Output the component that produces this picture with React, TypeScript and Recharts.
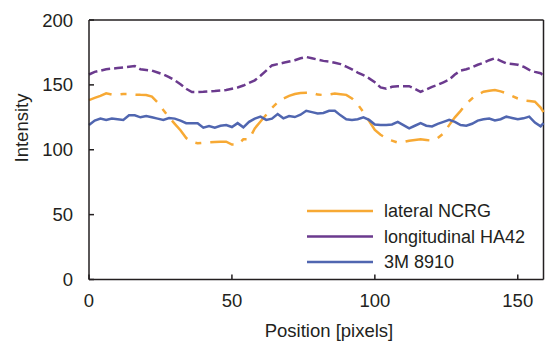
import React from 'react';
import { LineChart, Line, XAxis, YAxis, ReferenceLine, Customized } from 'recharts';

const positions = [
  0, 2, 4, 6, 8, 10, 12, 14, 16, 18,
  20, 22, 24, 26, 28, 30, 32, 34, 36, 38,
  40, 42, 44, 46, 48, 50, 52, 54, 56, 58,
  60, 62, 64, 66, 68, 70, 72, 74, 76, 78,
  80, 82, 84, 86, 88, 90, 92, 94, 96, 98,
  100, 102, 104, 106, 108, 110, 112, 114, 116, 118,
  120, 122, 124, 126, 128, 130, 132, 134, 136, 138,
  140, 142, 144, 146, 148, 150, 152, 154, 156, 158,
  159,
];

const lateralNCRG = [
  138.3, 140, 141.5, 143.5, 142.5, 142.5, 143, 143, 142.5, 142.3,
  142.2, 141, 136.5, 130.6, 125, 120, 115, 109, 106, 105,
  105.4, 105.7, 106, 106.2, 106.2, 104, 104, 108, 108, 116.5,
  121.8, 127, 132.2, 136.5, 139.5, 141.5, 143, 143.7, 144, 144,
  142.5, 142.2, 142.5, 143.3, 142.8, 142.3, 139.5, 135, 129, 122,
  115.2, 111.5, 109, 107, 105.5, 106, 107, 107.5, 108, 107.5,
  107, 109, 112.5, 119, 125, 130, 135.5, 139.5, 142.5, 144.7,
  145.5, 146, 145, 143.5, 141.5, 139.5, 138, 137.5, 137, 132.5,
  129,
];

const longitudinalHA42 = [
  158, 160, 161, 162, 162.5, 163, 163.5, 164, 164.5, 162,
  161.5, 161, 159.5, 158, 156, 153.5, 150.5, 147, 144.5, 144.5,
  144.7, 145, 145.3, 145.7, 146, 147, 148, 149.5, 151.5, 153.5,
  157, 161, 165, 166, 167, 168, 169, 170.5, 171.5, 170.5,
  169.5, 168.5, 168, 167, 166, 164, 162, 159.5, 157.5, 155,
  152, 148, 147, 148.5, 149, 149, 149, 147, 144.7, 146.5,
  148.5, 150, 152, 154, 158, 161, 162, 163.5, 165.5, 167,
  169, 170.5, 168.5, 166.5, 166, 165.5, 164, 161.5, 160, 159,
  157,
];

const m8910 = [
  119, 122.5, 124, 123, 124, 123.5, 123, 126.5, 126.5, 125,
  126, 125, 124, 123, 124.5, 124, 122.5, 120.5, 120.5, 120.5,
  117, 118.3, 117, 118.5, 119, 117.5, 120.5, 117.3, 121.5, 124,
  125.5, 123, 124, 127.5, 124.2, 126, 125.2, 127, 130, 129,
  128, 128.3, 130, 130, 126.5, 123.5, 123, 123.5, 125, 123,
  119.5, 119, 119, 119.5, 121.5, 119, 116.5, 118.5, 120.5, 118.5,
  118, 120, 121.5, 123, 121.5, 119, 118.5, 120, 122.5, 123.5,
  124, 122.5, 123.5, 125.5, 124.5, 123.5, 124.2, 125.5, 121, 118,
  120.5,
];

const xTicks = [0, 50, 100, 150];
const yTicks = [0, 50, 100, 150, 200];

const seriesNames = ['lateral NCRG', 'longitudinal HA42', '3M 8910'];
const seriesColors = ['#F7A934', '#6B3A8E', '#5066B0'];

const data = positions.map((p, i) => ({
  pos: p,
  lateral: lateralNCRG[i],
  longitudinal: longitudinalHA42[i],
  m: m8910[i],
}));

const FONT = '"Liberation Sans", Arial, sans-serif';
const AXIS = '#231F20';
const TICK_FS = 18.5;

const Overlay = () => (
  <g fontFamily={FONT} fill="#231F20">
    <text x={329} y={330} fontSize={18.5} textAnchor="middle" dominantBaseline="central">
      Position [pixels]
    </text>
    <text
      x={21}
      y={128}
      fontSize={18.5}
      textAnchor="middle"
      dominantBaseline="central"
      transform="rotate(-90 21 128)"
    >
      Intensity
    </text>
    {seriesNames.map((n, i) => (
      <g key={n}>
        <line x1={307} x2={373} y1={211 + i * 25.5} y2={211 + i * 25.5} stroke={seriesColors[i]} strokeWidth={2.5} />
        <text x={384} y={211 + i * 25.5} fontSize={18} dominantBaseline="central">
          {n}
        </text>
      </g>
    ))}
  </g>
);

export default function App() {
  return (
    <div style={{ position: 'absolute', left: 0, top: 0, background: '#fff' }}>
      <LineChart
        width={546}
        height={341}
        data={data}
        margin={{ top: 20, right: 2.5, bottom: 0, left: 0 }}
      >
        <XAxis
          dataKey="pos"
          type="number"
          domain={[0, 159]}
          ticks={xTicks}
          interval={0}
          height={61.5}
          tickSize={-5}
          tickMargin={19.4}
          axisLine={{ stroke: AXIS, strokeWidth: 1.5 }}
          tickLine={{ stroke: AXIS, strokeWidth: 1.5 }}
          tick={{ fill: '#231F20', fontSize: TICK_FS, fontFamily: FONT }}
        />
        <YAxis
          type="number"
          domain={[0, 200]}
          ticks={yTicks}
          interval={0}
          width={89}
          tickSize={-5}
          tickMargin={21}
          axisLine={{ stroke: AXIS, strokeWidth: 1.5 }}
          tickLine={{ stroke: AXIS, strokeWidth: 1.5 }}
          tick={{ fill: '#231F20', fontSize: TICK_FS, fontFamily: FONT }}
        />
        <ReferenceLine y={200} stroke={AXIS} strokeWidth={1.5} />
        <ReferenceLine x={159} stroke={AXIS} strokeWidth={1.5} />
        <Line
          type="linear"
          dataKey="lateral"
          stroke={seriesColors[0]}
          strokeWidth={2.5}
          strokeDasharray="24 9 6 9"
          dot={false}
          isAnimationActive={false}
        />
        <Line
          type="linear"
          dataKey="longitudinal"
          stroke={seriesColors[1]}
          strokeWidth={2.5}
          strokeDasharray="9 4"
          dot={false}
          isAnimationActive={false}
        />
        <Line
          type="linear"
          dataKey="m"
          stroke={seriesColors[2]}
          strokeWidth={2.5}
          dot={false}
          isAnimationActive={false}
        />
        <Customized component={Overlay} />
      </LineChart>
    </div>
  );
}
